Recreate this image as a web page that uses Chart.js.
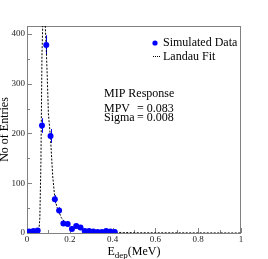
<!DOCTYPE html>
<html><head><meta charset="utf-8">
<script src="https://cdn.jsdelivr.net/npm/chart.js@4/dist/chart.umd.min.js"></script>
<style>html,body{margin:0;padding:0;background:#fff;overflow:hidden}</style>
</head><body>
<canvas id="c" width="268" height="259"></canvas>
<script>
// ---- data ----
const binCenters = [0.01,0.03,0.05,0.07,0.09,0.11,0.13,0.15,0.17,0.19,0.21,0.23,0.25,0.27,0.29,0.31,0.33,0.35,0.37,0.39,0.41];
const counts     = [3,4,5,216,378,195,68,45,19,18,8,14,11,4,4,3,2,2,4,3,2];
const errors     = [1.7,2,2.2,14.7,19.4,14,8.2,6.7,4.4,4.2,2.8,3.7,3.3,2,2,1.7,1.4,1.4,2,1.7,1.4];
const fitE = [0,0.04,0.05,0.055,0.06,0.065,0.07,0.075,0.08,0.085,0.09,0.095,0.10,0.11,0.12,0.13,0.14,0.15,0.16,0.18,0.20,0.25,0.30,0.35,0.40,0.45,0.50,1.0];
const fitN = [0,0,0,2,30,140,360,440,450,420,370,310,240,190,115,70,52,42,31,20,14,7,4,2.5,1.5,1,0.5,0];
const xTicks = [0,0.2,0.4,0.6,0.8,1];
const xTickLabels = ['0','0.2','0.4','0.6','0.8','1'];
const yTicks = [0,100,200,300,400];
const yTickLabels = ['0','100','200','300','400'];
const legendLabels = ['Simulated Data','Landau Fit'];
const infoLines = [['MIP Response',''],['MPV','= 0.083'],['Sigma','= 0.008']];

const SERIF = "'Liberation Serif','Times New Roman',serif";
const BLUE = '#0000ff';

const rootPlugin = {
  id: 'rootStyle',
  beforeDatasetsDraw(chart) {
    const {ctx, chartArea: a, scales: {x, y}} = chart;
    ctx.save();
    ctx.strokeStyle = '#808080';
    ctx.lineWidth = 1;
    ctx.strokeRect(a.left + 0.5, a.top + 0.5, a.right - a.left - 1, a.bottom - a.top);
    ctx.beginPath();
    // y ticks (inward)
    for (let i = 0; i < yTicks.length; i++) {
      const py = Math.round(y.getPixelForValue(yTicks[i])) + 0.5;
      ctx.moveTo(a.left, py); ctx.lineTo(a.left + 5, py);
      const mv = yTicks[i] + (yTicks[1] - yTicks[0]) / 2;
      if (mv < y.max) {
        const pm = Math.round(y.getPixelForValue(mv)) + 0.5;
        ctx.moveTo(a.left, pm); ctx.lineTo(a.left + 3, pm);
      }
    }
    // x ticks (inward)
    for (let i = 0; i < xTicks.length; i++) {
      const px = Math.round(x.getPixelForValue(xTicks[i])) + 0.5;
      ctx.moveTo(px, a.bottom); ctx.lineTo(px, a.bottom - 5);
      if (i < xTicks.length - 1) {
        const pm = Math.round(x.getPixelForValue((xTicks[i] + xTicks[i + 1]) / 2)) + 0.5;
        ctx.moveTo(pm, a.bottom); ctx.lineTo(pm, a.bottom - 3);
      }
    }
    ctx.stroke();
    // error bars
    ctx.strokeStyle = BLUE;
    ctx.beginPath();
    for (let i = 0; i < counts.length; i++) {
      const px = Math.round(x.getPixelForValue(binCenters[i])) + 0.5;
      ctx.moveTo(px, y.getPixelForValue(Math.max(0, counts[i] - errors[i])));
      ctx.lineTo(px, y.getPixelForValue(counts[i] + errors[i]));
    }
    ctx.stroke();
    ctx.restore();
  },
  afterDraw(chart) {
    const {ctx, chartArea: a} = chart;
    ctx.save();
    ctx.fillStyle = '#000';
    ctx.textBaseline = 'alphabetic';
    // x title with subscript
    const big = '12px ' + SERIF, small = '9px ' + SERIF;
    ctx.font = big; const wE = ctx.measureText('E').width; const wM = ctx.measureText('(MeV)').width;
    ctx.font = small; const wD = ctx.measureText('dep').width;
    let tx = (a.left + a.right) / 2 - (wE + wD + wM) / 2;
    const ty = 254.5;
    ctx.font = big; ctx.fillText('E', tx, ty); tx += wE;
    ctx.font = small; ctx.fillText('dep', tx, ty + 3); tx += wD;
    ctx.font = big; ctx.fillText('(MeV)', tx, ty);
    // legend
    ctx.font = big;
    ctx.fillText(legendLabels[0], 163, 46);
    ctx.fillText(legendLabels[1], 163, 60);
    ctx.fillStyle = BLUE;
    ctx.beginPath(); ctx.arc(155, 43, 2.6, 0, Math.PI * 2); ctx.fill();
    ctx.strokeStyle = '#000'; ctx.lineWidth = 1; ctx.setLineDash([1, 1]);
    ctx.beginPath(); ctx.moveTo(153, 56.5); ctx.lineTo(161, 56.5); ctx.stroke();
    ctx.setLineDash([]);
    // info text
    ctx.fillStyle = '#000';
    const bl = [96.5, 111.5, 121];
    for (let i = 0; i < infoLines.length; i++) {
      ctx.fillText(infoLines[i][0], 104, bl[i]);
      if (infoLines[i][1]) ctx.fillText(infoLines[i][1], 137, bl[i]);
    }
    ctx.restore();
  }
};

new Chart(document.getElementById('c'), {
  type: 'scatter',
  data: {
    datasets: [
      {
        label: legendLabels[0],
        data: binCenters.map((e, i) => ({x: e, y: counts[i]})),
        pointRadius: 3, pointHoverRadius: 3,
        backgroundColor: BLUE, borderColor: BLUE, borderWidth: 0,
        showLine: false
      },
      {
        label: legendLabels[1],
        data: fitE.map((e, i) => ({x: e, y: fitN[i]})),
        showLine: true, pointRadius: 0, borderColor: '#000', borderWidth: 1,
        borderDash: [2, 1.5], tension: 0, fill: false
      }
    ]
  },
  options: {
    responsive: false, animation: false, devicePixelRatio: 1,
    layout: {padding: {left: 0, top: 26, right: 27, bottom: 0}},
    plugins: {legend: {display: false}, tooltip: {enabled: false}},
    scales: {
      x: {
        type: 'linear', min: 0, max: 1,
        afterBuildTicks: s => { s.ticks = xTicks.map(v => ({value: v})); },
        ticks: {callback: (v, i) => xTickLabels[i], font: {family: SERIF, size: 9}, color: '#222', padding: 1, maxRotation: 0, autoSkip: false},
        grid: {display: false, drawTicks: false, tickLength: 0},
        border: {display: false},
        afterFit: s => { s.height = 26; }
      },
      y: {
        type: 'linear', min: 0, max: 416,
        afterBuildTicks: s => { s.ticks = yTicks.map(v => ({value: v})); },
        ticks: {callback: (v, i) => yTickLabels[i], font: {family: SERIF, size: 9}, color: '#222', padding: 2, autoSkip: false},
        grid: {display: false, drawTicks: false, tickLength: 0},
        border: {display: false},
        title: {display: true, text: 'No of Entries', font: {family: SERIF, size: 12}, color: '#000', padding: {top: -2, bottom: 0}},
        afterFit: s => { s.width = 27; }
      }
    }
  },
  plugins: [rootPlugin]
});
</script>
</body></html>
